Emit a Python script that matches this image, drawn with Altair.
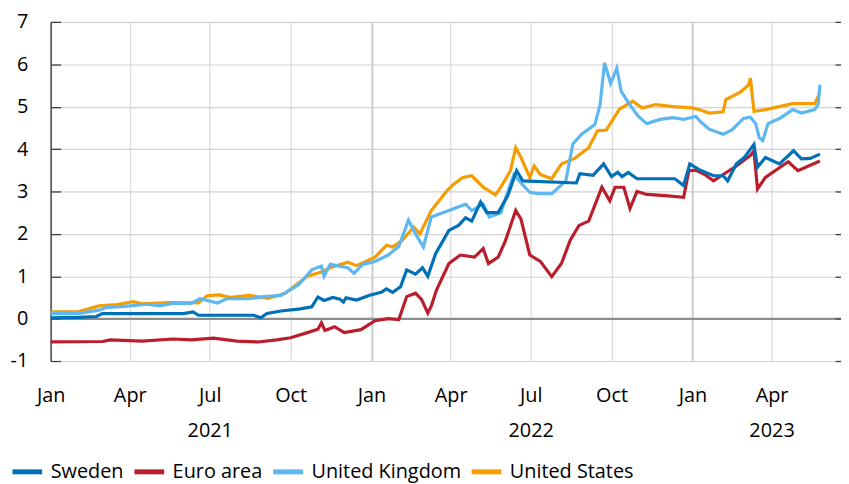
import altair as alt
import pandas as pd

FONT = "Open Sans"
SERIES = ["Sweden", "Euro area", "United Kingdom", "United States"]
COLORS = ["#0070B8", "#BA1E2D", "#5DB7F0", "#F59C00"]
DRAW_ORDER = ["United States", "United Kingdom", "Euro area", "Sweden"]

sweden_dates = ["2021-01-01","2021-02-01","2021-02-22","2021-03-01","2021-04-15","2021-06-01","2021-06-12","2021-06-18",
                "2021-08-20","2021-08-28","2021-09-04","2021-09-20","2021-10-12","2021-10-25","2021-11-01","2021-11-08",
                "2021-11-18","2021-11-26","2021-11-30","2021-12-03","2021-12-15","2021-12-30","2022-01-12","2022-01-18",
                "2022-01-25","2022-02-03","2022-02-10","2022-02-20","2022-02-28","2022-03-06","2022-03-15","2022-03-30",
                "2022-04-10","2022-04-18","2022-04-25","2022-05-05","2022-05-12","2022-05-25","2022-06-05","2022-06-15",
                "2022-06-22","2022-08-22","2022-08-26","2022-09-10","2022-09-22","2022-10-01","2022-10-08","2022-10-13",
                "2022-10-20","2022-10-30","2022-12-12","2022-12-22","2022-12-29","2023-01-10","2023-01-25","2023-02-05",
                "2023-02-10","2023-02-20","2023-03-01","2023-03-12","2023-03-16","2023-03-25","2023-04-10","2023-04-26",
                "2023-05-05","2023-05-15","2023-05-26"]
sweden_values = [0.02,0.03,0.05,0.12,0.12,0.12,0.16,0.08,
                 0.08,0.02,0.12,0.18,0.23,0.28,0.51,0.43,
                 0.50,0.46,0.39,0.49,0.44,0.55,0.62,0.70,
                 0.62,0.75,1.15,1.05,1.20,1.00,1.54,2.08,
                 2.20,2.38,2.30,2.75,2.50,2.50,2.90,3.49,
                 3.25,3.20,3.42,3.38,3.65,3.35,3.45,3.35,
                 3.45,3.30,3.30,3.14,3.65,3.50,3.37,3.37,
                 3.25,3.65,3.80,4.11,3.57,3.80,3.65,3.96,
                 3.77,3.78,3.88]

euro_dates = ["2021-01-01","2021-03-01","2021-03-10","2021-04-15","2021-05-20","2021-06-10","2021-07-05","2021-08-01",
              "2021-08-25","2021-09-15","2021-10-01","2021-10-20","2021-11-01","2021-11-05","2021-11-09","2021-11-20",
              "2021-12-01","2021-12-20","2022-01-05","2022-01-20","2022-02-01","2022-02-10","2022-02-20","2022-02-27",
              "2022-03-06","2022-03-10","2022-03-16","2022-03-30","2022-04-12","2022-04-28","2022-05-08","2022-05-14",
              "2022-05-25","2022-06-02","2022-06-14","2022-06-20","2022-06-30","2022-07-12","2022-07-25","2022-08-05",
              "2022-08-15","2022-08-25","2022-09-05","2022-09-20","2022-09-29","2022-10-05","2022-10-15","2022-10-22",
              "2022-10-30","2022-11-10","2022-12-01","2022-12-22","2022-12-28","2023-01-05","2023-01-15","2023-01-25",
              "2023-02-05","2023-02-20","2023-03-08","2023-03-12","2023-03-16","2023-03-25","2023-04-05","2023-04-20",
              "2023-05-01","2023-05-26"]
euro_values = [-0.55,-0.54,-0.50,-0.53,-0.48,-0.50,-0.46,-0.53,
               -0.55,-0.50,-0.45,-0.33,-0.25,-0.10,-0.28,-0.19,
               -0.33,-0.26,-0.05,0.00,-0.02,0.52,0.60,0.45,
               0.13,0.30,0.68,1.30,1.50,1.45,1.65,1.30,
               1.45,1.82,2.55,2.35,1.50,1.35,0.99,1.30,
               1.85,2.20,2.30,3.10,2.78,3.10,3.10,2.60,
               3.00,2.93,2.90,2.86,3.49,3.50,3.40,3.25,
               3.40,3.60,3.85,3.96,3.06,3.33,3.49,3.70,
               3.49,3.72]

uk_dates = ["2021-01-01","2021-02-01","2021-02-25","2021-03-05","2021-04-01","2021-04-20","2021-05-05","2021-05-20",
            "2021-06-10","2021-06-20","2021-07-10","2021-07-20","2021-08-15","2021-09-01","2021-09-20","2021-10-10",
            "2021-10-25","2021-11-05","2021-11-08","2021-11-15","2021-12-05","2021-12-12","2021-12-22","2022-01-05",
            "2022-01-20","2022-02-01","2022-02-12","2022-02-20","2022-03-01","2022-03-10","2022-03-30","2022-04-18",
            "2022-04-25","2022-05-08","2022-05-15","2022-05-28","2022-06-05","2022-06-12","2022-06-20","2022-06-30",
            "2022-07-10","2022-07-25","2022-08-10","2022-08-18","2022-08-28","2022-09-12","2022-09-18","2022-09-23",
            "2022-09-30","2022-10-07","2022-10-12","2022-10-20","2022-10-31","2022-11-10","2022-11-25","2022-12-10",
            "2022-12-22","2023-01-05","2023-01-10","2023-01-20","2023-02-05","2023-02-15","2023-02-28","2023-03-08",
            "2023-03-14","2023-03-18","2023-03-22","2023-03-28","2023-04-10","2023-04-25","2023-05-05","2023-05-20",
            "2023-05-24","2023-05-26"]
uk_values = [0.12,0.12,0.20,0.26,0.30,0.34,0.30,0.36,
             0.36,0.47,0.37,0.47,0.47,0.52,0.55,0.80,
             1.15,1.24,1.00,1.28,1.20,1.07,1.28,1.35,
             1.50,1.70,2.32,2.00,1.69,2.40,2.55,2.70,
             2.55,2.70,2.40,2.50,3.00,3.40,3.20,2.98,
             2.95,2.95,3.25,4.12,4.35,4.58,5.05,6.03,
             5.55,5.91,5.36,5.10,4.78,4.60,4.70,4.74,
             4.70,4.77,4.65,4.47,4.35,4.45,4.72,4.75,
             4.60,4.27,4.20,4.60,4.72,4.93,4.85,4.93,
             5.05,5.52]

us_dates = ["2021-01-01","2021-02-01","2021-02-25","2021-03-18","2021-04-05","2021-04-15","2021-05-15","2021-06-18",
            "2021-06-28","2021-07-12","2021-07-25","2021-08-15","2021-09-05","2021-09-25","2021-10-20","2021-11-05",
            "2021-11-15","2021-12-05","2021-12-15","2022-01-05","2022-01-18","2022-01-25","2022-02-05","2022-02-18",
            "2022-02-25","2022-03-10","2022-03-28","2022-04-05","2022-04-15","2022-04-25","2022-05-08","2022-05-22",
            "2022-05-28","2022-06-08","2022-06-14","2022-06-20","2022-06-30","2022-07-05","2022-07-12","2022-07-25",
            "2022-08-05","2022-08-20","2022-09-05","2022-09-15","2022-09-25","2022-10-10","2022-10-25","2022-11-05",
            "2022-11-20","2022-12-10","2023-01-01","2023-01-10","2023-01-20","2023-02-05","2023-02-08","2023-02-25",
            "2023-03-06","2023-03-08","2023-03-12","2023-03-25","2023-04-25","2023-05-20","2023-05-26"]
us_values = [0.16,0.16,0.30,0.33,0.40,0.35,0.38,0.37,
             0.54,0.56,0.50,0.55,0.48,0.60,1.00,1.10,
             1.20,1.33,1.25,1.45,1.73,1.69,1.85,2.16,
             2.00,2.55,3.02,3.18,3.33,3.37,3.10,2.92,
             3.10,3.49,4.03,3.80,3.33,3.60,3.40,3.30,
             3.65,3.78,4.03,4.43,4.45,4.94,5.13,4.97,
             5.05,5.00,4.97,4.92,4.85,4.88,5.17,5.35,
             5.52,5.67,4.89,4.93,5.07,5.07,5.32]

month_ticks = ["2021-01-01","2021-04-01","2021-07-01","2021-10-01","2022-01-01","2022-04-01",
               "2022-07-01","2022-10-01","2023-01-01","2023-04-01"]
year_ticks = ["2021-07-01","2022-07-01","2023-04-01"]
y_ticks = [-1, 0, 1, 2, 3, 4, 5, 6, 7]

frames = []
for name, d, v in [("Sweden", sweden_dates, sweden_values), ("Euro area", euro_dates, euro_values),
                   ("United Kingdom", uk_dates, uk_values), ("United States", us_dates, us_values)]:
    frames.append(pd.DataFrame({"date": pd.to_datetime(d), "value": v, "series": name}))
df = pd.concat(frames, ignore_index=True)


def dt(s):
    y, m, d = [int(p) for p in s.split("-")]
    return alt.DateTime(year=y, month=m, date=d)


x_scale = alt.Scale(domain=[dt("2021-01-01"), dt("2023-06-19")])
y_scale = alt.Scale(domain=[-1, 7], nice=False, zero=False)

color = alt.Color("series:N", scale=alt.Scale(domain=SERIES, range=COLORS),
                  legend=alt.Legend(orient="none", legendX=-41, legendY=436, direction="horizontal",
                                    title=None, symbolType="stroke", symbolSize=900, symbolStrokeWidth=5,
                                    labelFont=FONT, labelFontSize=20, labelColor="#000000",
                                    labelOffset=6, columnPadding=0, padding=0))

x_month = alt.X("date:T", scale=x_scale, title=None,
                axis=alt.Axis(values=[dt(s) for s in month_ticks],
                              labelExpr="timeFormat(datum.value, '%b')",
                              ticks=False, domain=False, labelPadding=25, labelFlush=False,
                              labelFont=FONT, labelFontSize=20, labelColor="#000000",
                              labelAngle=0,
                              gridColor={"condition": {"test": "month(datum.value) == 0", "value": "#cccccc"},
                                         "value": "#d9d9d9"},
                              gridWidth={"condition": {"test": "month(datum.value) == 0", "value": 2.0},
                                         "value": 1.2}))
y_left = alt.Y("value:Q", scale=y_scale, title=None,
               axis=alt.Axis(values=y_ticks, labelExpr="'' + datum.value", tickSize={"expr": "-10"},
                             tickColor="#404040", tickWidth=1.3, labelPadding=33,
                             domainColor="#404040", domainWidth=1.3,
                             labelFont=FONT, labelFontSize=20, labelColor="#000000",
                             gridColor={"condition": {"test": "datum.value == 0", "value": "#8c8c8c"},
                                        "value": "#d2d2d2"},
                             gridWidth={"condition": {"test": "datum.value == 0", "value": 2.2},
                                        "value": 1.2}))

layers = []
for name in DRAW_ORDER:
    layers.append(
        alt.Chart(df).transform_filter(alt.datum.series == name)
        .mark_line(strokeWidth=3.2, interpolate="linear")
        .encode(x=x_month, y=y_left, color=color)
    )
lines = alt.layer(*layers)

x_year = alt.X("date:T", scale=x_scale, title=None,
               axis=alt.Axis(orient="bottom", values=[dt(s) for s in year_ticks],
                             labelExpr="timeFormat(datum.value, '%Y')", labelFlush=False,
                             ticks=False, domain=False, grid=False, labelPadding=60,
                             labelFont=FONT, labelFontSize=20, labelColor="#000000"))
y_right = alt.Y("value:Q", scale=y_scale, title=None,
                axis=alt.Axis(orient="right", values=y_ticks, labels=False, domain=False, grid=False,
                              tickSize={"expr": "-6"}, tickColor="#404040", tickWidth=1.3))
axis_layer = alt.Chart(df).mark_line(opacity=0).encode(x=x_year, y=y_right, detail="series:N")

chart = (
    alt.layer(lines, axis_layer)
    .resolve_axis(x="independent", y="independent")
    .properties(width=797, height=342,
                autosize=alt.AutoSizeParams(type="none"),
                padding={"left": 43, "top": 12, "right": 0, "bottom": 122})
    .configure_view(stroke=None)
    .configure_axis(labelFont=FONT)
)

chart.save("out.html", embed_options={"renderer": "svg", "actions": False})
